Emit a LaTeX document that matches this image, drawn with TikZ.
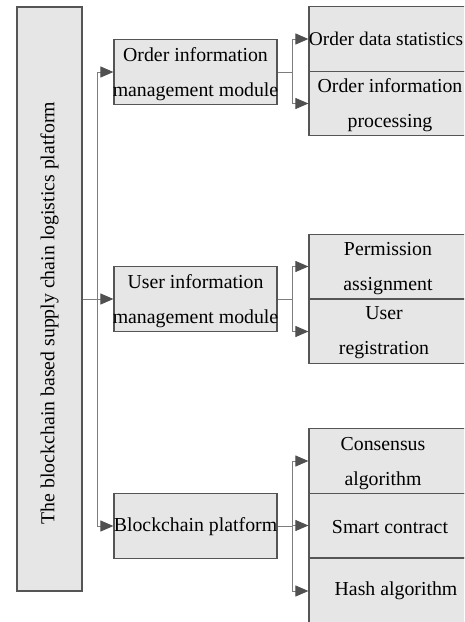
\documentclass[tikz,border=0pt]{standalone}
\usepackage{fontspec}
\setmainfont{Liberation Serif}
\usetikzlibrary{arrows.meta}
\definecolor{boxfill}{RGB}{230,230,230}
\definecolor{boxline}{RGB}{85,85,85}
\definecolor{connline}{RGB}{125,125,125}
\definecolor{tipcol}{RGB}{80,80,80}
\begin{document}
\begin{tikzpicture}[x=1pt,y=-1pt,
  basebox/.style={draw=boxline, line width=1.2pt, fill=boxfill, inner sep=0pt},
  rootbox/.style={basebox, minimum width=65pt, minimum height=584pt},
  midbox/.style={basebox, minimum width=163pt, minimum height=64.5pt},
  leafbox/.style={basebox, minimum width=161pt, minimum height=64.5pt},
  txt/.style={font=\fontsize{19.8}{35}\selectfont, align=center, inner sep=0pt, text=black},
  conn/.style={draw=connline, line width=1pt},
  arr/.style={conn, -{Triangle[length=13pt,width=11pt,color=tipcol]}}]
\useasboundingbox (0,0) rectangle (464,622);
\fill[white] (0,0) rectangle (464,622);
\clip (0,0) rectangle (464,622);

% root
\node[rootbox] (root) at (49.5,299) {};
\node[txt, rotate=90] (roottxt) at (49.5,313) {The blockchain based supply chain logistics platform};

% middle boxes
\node[midbox] (om) at (195.5,72) {};
\node[txt] (omt) at (195.5,74) {Order information\\management module};
\node[midbox] (um) at (195.5,299) {};
\node[txt] (umt) at (195.5,301) {User information\\management module};
\node[midbox] (bp) at (195.5,526) {};
\node[txt] (bpt) at (195.5,527) {Blockchain platform};

% leaf boxes
\node[leafbox] (ods) at (389.5,39) {};
\node[txt, font=\fontsize{19.4}{35}\selectfont] (odst) at (386,39) {Order data statistics};
\node[leafbox] (oip) at (389.5,103.5) {};
\node[txt] (oipt) at (390,105.5) {Order information\\processing};
\node[leafbox] (pa) at (389.5,266.5) {};
\node[txt] (pat) at (388,269) {Permission\\assignment};
\node[leafbox] (ur) at (389.5,331.5) {};
\node[txt] (urt) at (384,333) {User\\registration};
\node[leafbox] (ca) at (389.5,461) {};
\node[txt] (cat) at (383,464) {Consensus\\algorithm};
\node[leafbox] (sc) at (389.5,525.5) {};
\node[txt] (sct) at (390,527) {Smart contract};
\node[leafbox, minimum height=76pt] (ha) at (389.5,596) {};
\node[txt] (hat) at (396,591) {Hash algorithm};

% trunk connectors
\draw[conn] (root.east) -- ++(15,0) coordinate (tr);
\draw[arr] (tr) |- (om.west);
\draw[arr] (tr) |- (um.west);
\draw[arr] (tr) |- (bp.west);

% right-hand connectors
\draw[conn] (om.east) -- ++(15,0) coordinate (ob);
\draw[arr] (ob) |- (ods.west);
\draw[arr] (ob) |- (oip.west);
\draw[conn] (um.east) -- ++(15,0) coordinate (ub);
\draw[arr] (ub) |- (pa.west);
\draw[arr] (ub) |- (ur.west);
\draw[conn] (bp.east) -- ++(15,0) coordinate (bb);
\draw[arr] (bb) |- (ca.west);
\draw[arr] (bb) |- (sc.west);
\draw[arr] (bb) |- (ha.west |- hat);
\end{tikzpicture}
\end{document}
